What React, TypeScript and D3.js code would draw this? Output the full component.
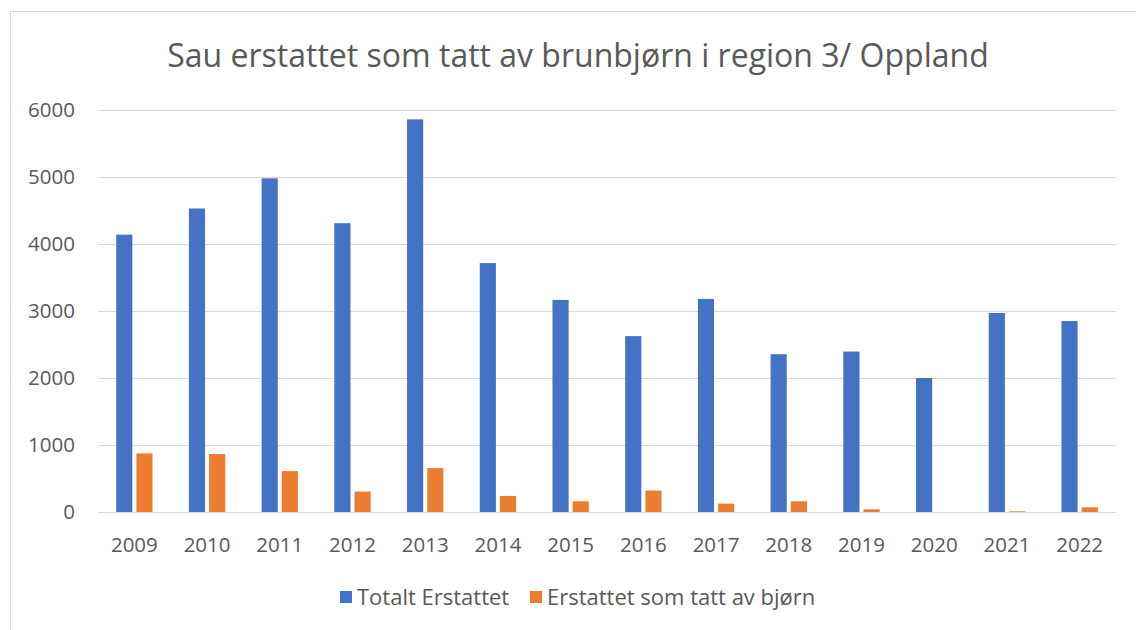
import React, { useEffect, useRef } from "react";
import * as d3 from "d3";

const years = ["2009", "2010", "2011", "2012", "2013", "2014", "2015", "2016", "2017", "2018", "2019", "2020", "2021", "2022"];
const totalt = [4140, 4530, 4980, 4310, 5860, 3715, 3165, 2625, 3180, 2355, 2395, 2000, 2970, 2850];
const bjorn = [875, 865, 610, 305, 655, 240, 160, 320, 125, 160, 40, 0, 10, 70];
const seriesNames = ["Totalt Erstattet", "Erstattet som tatt av bjørn"];
const seriesColors = ["#4472C4", "#ED7D31"];
const yTicks = [0, 1000, 2000, 3000, 4000, 5000, 6000];

const W = 1136;
const H = 630;
const FONT = "'Open Sans', Calibri, sans-serif";
const TXT = "#595959";

const App = () => {
  const ref = useRef<SVGSVGElement>(null);

  useEffect(() => {
    const svg = d3.select(ref.current);
    svg.selectAll("*").remove();

    const plot = { left: 98, right: 1116, top: 110, bottom: 512 };

    // outer chart frame (only left/top visible in the crop)
    svg.append("rect")
      .attr("x", 10.5).attr("y", 11.5)
      .attr("width", W + 20).attr("height", H + 20)
      .attr("fill", "#fff").attr("stroke", "#D9D9D9");

    svg.append("text")
      .attr("x", 578).attr("y", 67)
      .attr("text-anchor", "middle")
      .attr("font-family", FONT).attr("font-size", 32)
      .attr("fill", TXT)
      .text("Sau erstattet som tatt av brunbjørn i region 3/ Oppland");

    const x = d3.scaleBand().domain(years).range([plot.left, plot.right])
      .paddingInner(0.5).paddingOuter(0.25);
    const xs = d3.scaleBand().domain(seriesNames).range([0, x.bandwidth()]).paddingInner(0.2);
    const y = d3.scaleLinear().domain([0, 6000]).range([plot.bottom, plot.top]);

    // gridlines
    svg.append("g")
      .selectAll("line")
      .data(yTicks)
      .join("line")
      .attr("x1", plot.left).attr("x2", plot.right)
      .attr("y1", (d) => Math.round(y(d)) + 0.5)
      .attr("y2", (d) => Math.round(y(d)) + 0.5)
      .attr("stroke", "#D9D9D9").attr("stroke-width", 1.2);

    // y labels
    svg.append("g")
      .selectAll("text")
      .data(yTicks)
      .join("text")
      .attr("x", 75).attr("y", (d) => y(d))
      .attr("dy", "0.36em")
      .attr("text-anchor", "end")
      .attr("font-family", FONT).attr("font-size", 20.5)
      .attr("fill", TXT)
      .text((d) => d);

    // bars
    const data = [totalt, bjorn];
    data.forEach((vals, si) => {
      svg.append("g")
        .selectAll("rect")
        .data(vals)
        .join("rect")
        .attr("x", (d, i) => (x(years[i]) as number) + (xs(seriesNames[si]) as number))
        .attr("y", (d) => y(d))
        .attr("width", xs.bandwidth())
        .attr("height", (d) => y(0) - y(d))
        .attr("fill", seriesColors[si]);
    });

    // x labels
    svg.append("g")
      .selectAll("text")
      .data(years)
      .join("text")
      .attr("x", (d) => (x(d) as number) + x.bandwidth() / 2)
      .attr("y", 552)
      .attr("text-anchor", "middle")
      .attr("font-family", FONT).attr("font-size", 20.5)
      .attr("fill", TXT)
      .text((d) => d);

    // legend
    const legendX = [340, 530];
    const lg = svg.append("g");
    seriesNames.forEach((name, i) => {
      lg.append("rect")
        .attr("x", legendX[i]).attr("y", 591)
        .attr("width", 12).attr("height", 12)
        .attr("fill", seriesColors[i]);
      lg.append("text")
        .attr("x", legendX[i] + 17).attr("y", 605)
        .attr("font-family", FONT).attr("font-size", 22)
        .attr("fill", TXT)
        .text(name);
    });
  }, []);

  return (
    <svg
      ref={ref}
      width={W}
      height={H}
      style={{ position: "absolute", left: 0, top: 0, background: "#fff" }}
    />
  );
};

export default App;
